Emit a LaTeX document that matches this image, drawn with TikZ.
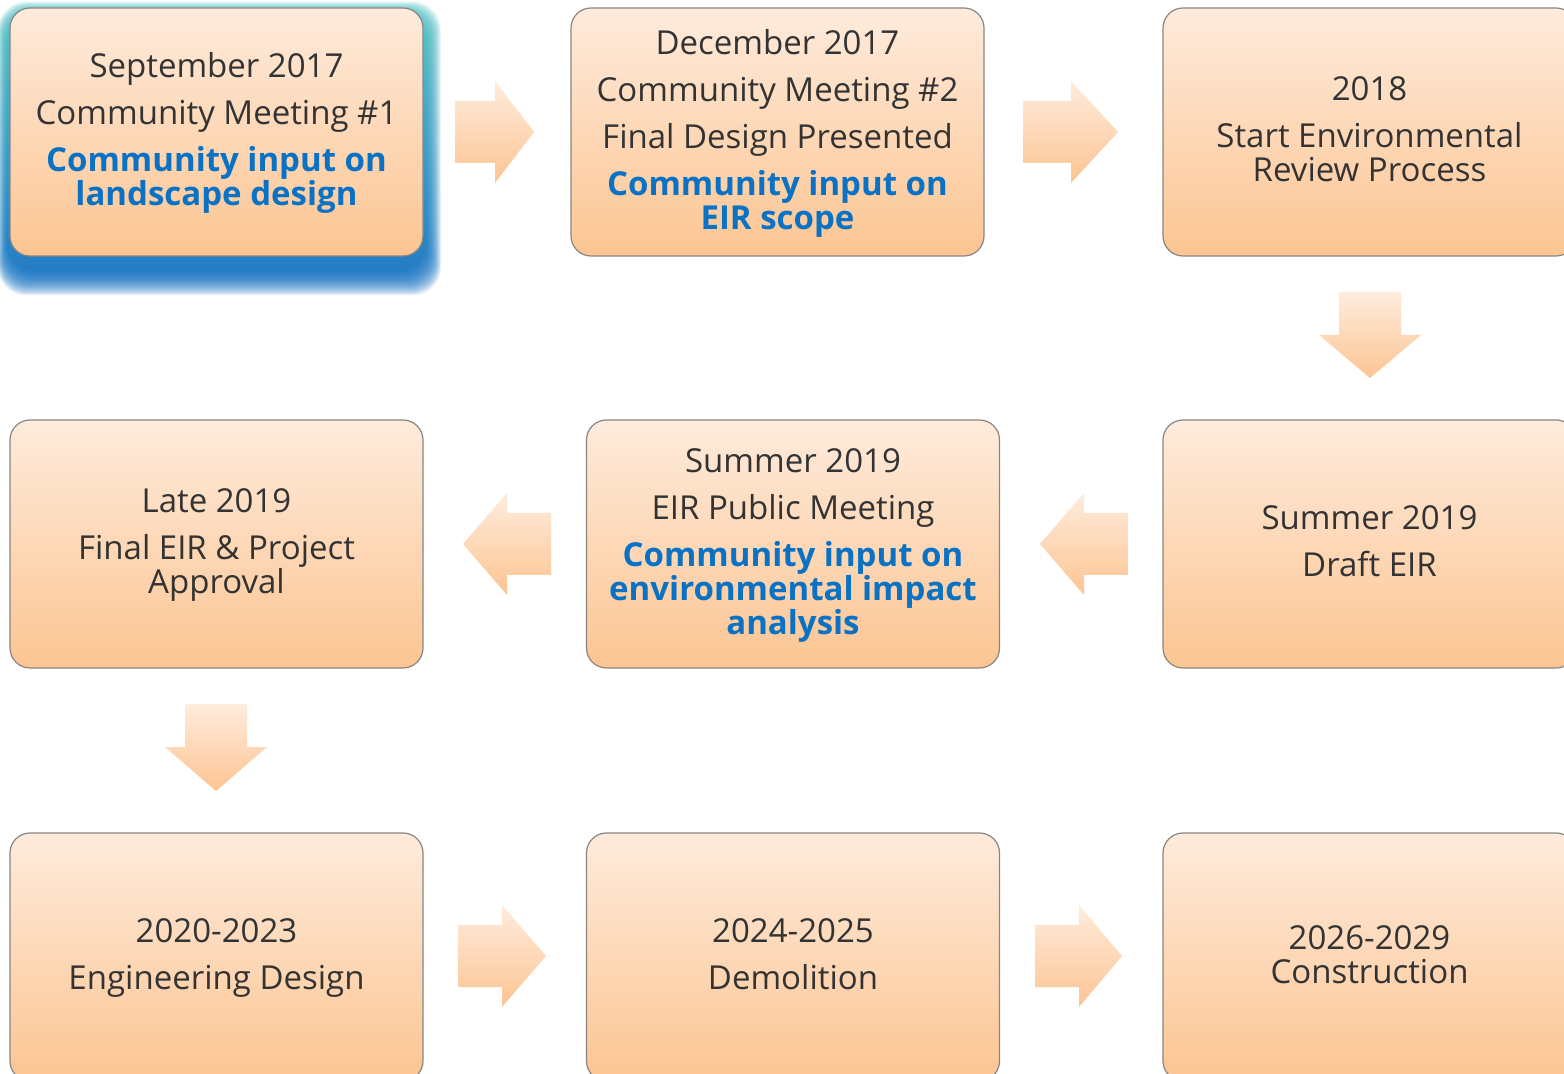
\documentclass[tikz,border=0pt]{standalone}
\usepackage{fontspec}
\setmainfont{Open Sans}
\usetikzlibrary{calc}
\definecolor{peachtop}{HTML}{FEEBDC}
\definecolor{peachbot}{HTML}{FCC592}
\definecolor{boxline}{HTML}{8A8580}
\definecolor{darktext}{HTML}{333333}
\definecolor{bluetext}{HTML}{0A72C4}
\definecolor{glowblue}{HTML}{0A6CC4}
\definecolor{glowteal}{HTML}{4CC4C4}
\definecolor{arrtop}{HTML}{FEECDD}
\definecolor{arrbot}{HTML}{FDC492}
\newcommand{\bt}[1]{{\color{bluetext}\bfseries #1}}
\newcommand{\stt}{\rule[-5pt]{0pt}{17pt}}
\tikzset{
  stagebox/.style={draw=boxline, line width=0.6pt, rounded corners=10pt,
    minimum width=206.5pt, minimum height=124pt, top color=peachtop,
    bottom color=peachbot, inner sep=0pt},
  stagetext/.style={align=center, text=darktext, inner sep=0pt,
    font=\fontsize{16.5}{17}\selectfont,
    execute at begin node=\stt, execute at end node=\stt},
  blockarrow/.style={top color=arrtop, bottom color=arrbot, draw=none}
}
\begin{document}
\begin{tikzpicture}[x=0.5pt,y=-0.5pt]
\useasboundingbox (0,0) rectangle (1564,1074);
\clip (0,0) rectangle (1564,1074);
\fill[white] (0,0) rectangle (1564,1074);
% glow around first box
\foreach \d in {0,1,...,30}{
  \shade[top color=glowteal, bottom color=glowblue, fill opacity=0.065, rounded corners=14pt]
    ({7-\d*0.3},{15-\d*0.45}) rectangle ({426+\d*0.5},{270+\d*0.85});
}
% boxes
\node[stagebox] (b1) at (216.5,132) {};
\node[stagebox] (b2) at (777.5,132) {};
\node[stagebox] (b3) at (1369.5,132) {};
\node[stagebox] (b4) at (216.5,544) {};
\node[stagebox] (b5) at (793,544) {};
\node[stagebox] (b6) at (1369.5,544) {};
\node[stagebox] (b7) at (216.5,957) {};
\node[stagebox] (b8) at (793,957) {};
\node[stagebox] (b9) at (1369.5,957) {};
% texts
\node[stagetext] (t1) at ([yshift=-1.1pt]b1.center) {September 2017\\[6.5pt]Community Meeting \#1\\[6.5pt]\bt{Community input on}\\\bt{landscape design}};
\node[stagetext] (t2) at ([yshift=-1.1pt]b2.center) {December 2017\\[6.5pt]Community Meeting \#2\\[6.5pt]Final Design Presented\\[6.5pt]\bt{Community input on}\\\bt{EIR scope}};
\node[stagetext] (t3) at ([yshift=-1.1pt]b3.center) {2018\\[6.5pt]Start Environmental\\Review Process};
\node[stagetext] (t4) at ([yshift=-1.1pt]b4.center) {Late 2019\\[6.5pt]Final EIR \& Project\\Approval};
\node[stagetext] (t5) at ([yshift=-1.1pt]b5.center) {Summer 2019\\[6.5pt]EIR Public Meeting\\[6.5pt]\bt{Community input on}\\\bt{environmental impact}\\\bt{analysis}};
\node[stagetext] (t6) at ([yshift=-1.1pt]b6.center) {Summer 2019\\[6.5pt]Draft EIR};
\node[stagetext] (t7) at ([yshift=-1.1pt]b7.center) {2020-2023\\[6.5pt]Engineering Design};
\node[stagetext] (t8) at ([yshift=-1.1pt]b8.center) {2024-2025\\[6.5pt]Demolition};
\node[stagetext] (t9) at ([yshift=-1.1pt]b9.center) {2026-2029\\Construction};
% block arrows
\path[blockarrow] (455,101) -- (495,101) -- (495,81) -- (534,132) -- (495,183) -- (495,163) -- (455,163) -- cycle;
\path[blockarrow] (1023,101) -- (1071,101) -- (1071,81) -- (1118,132) -- (1071,183) -- (1071,163) -- (1023,163) -- cycle;
\path[blockarrow] (1339,292) -- (1401,292) -- (1401,335) -- (1421,335) -- (1370,378) -- (1319,335) -- (1339,335) -- cycle;
\path[blockarrow] (551,513) -- (507,513) -- (507,493) -- (463,544) -- (507,595) -- (507,575) -- (551,575) -- cycle;
\path[blockarrow] (1128,513) -- (1084,513) -- (1084,493) -- (1040,544) -- (1084,595) -- (1084,575) -- (1128,575) -- cycle;
\path[blockarrow] (185,704) -- (247,704) -- (247,747) -- (267,747) -- (216,791) -- (165,747) -- (185,747) -- cycle;
\path[blockarrow] (458,925) -- (502,925) -- (502,905) -- (546,956) -- (502,1007) -- (502,987) -- (458,987) -- cycle;
\path[blockarrow] (1035,925) -- (1079,925) -- (1079,905) -- (1122,956) -- (1079,1007) -- (1079,987) -- (1035,987) -- cycle;
\end{tikzpicture}
\end{document}
